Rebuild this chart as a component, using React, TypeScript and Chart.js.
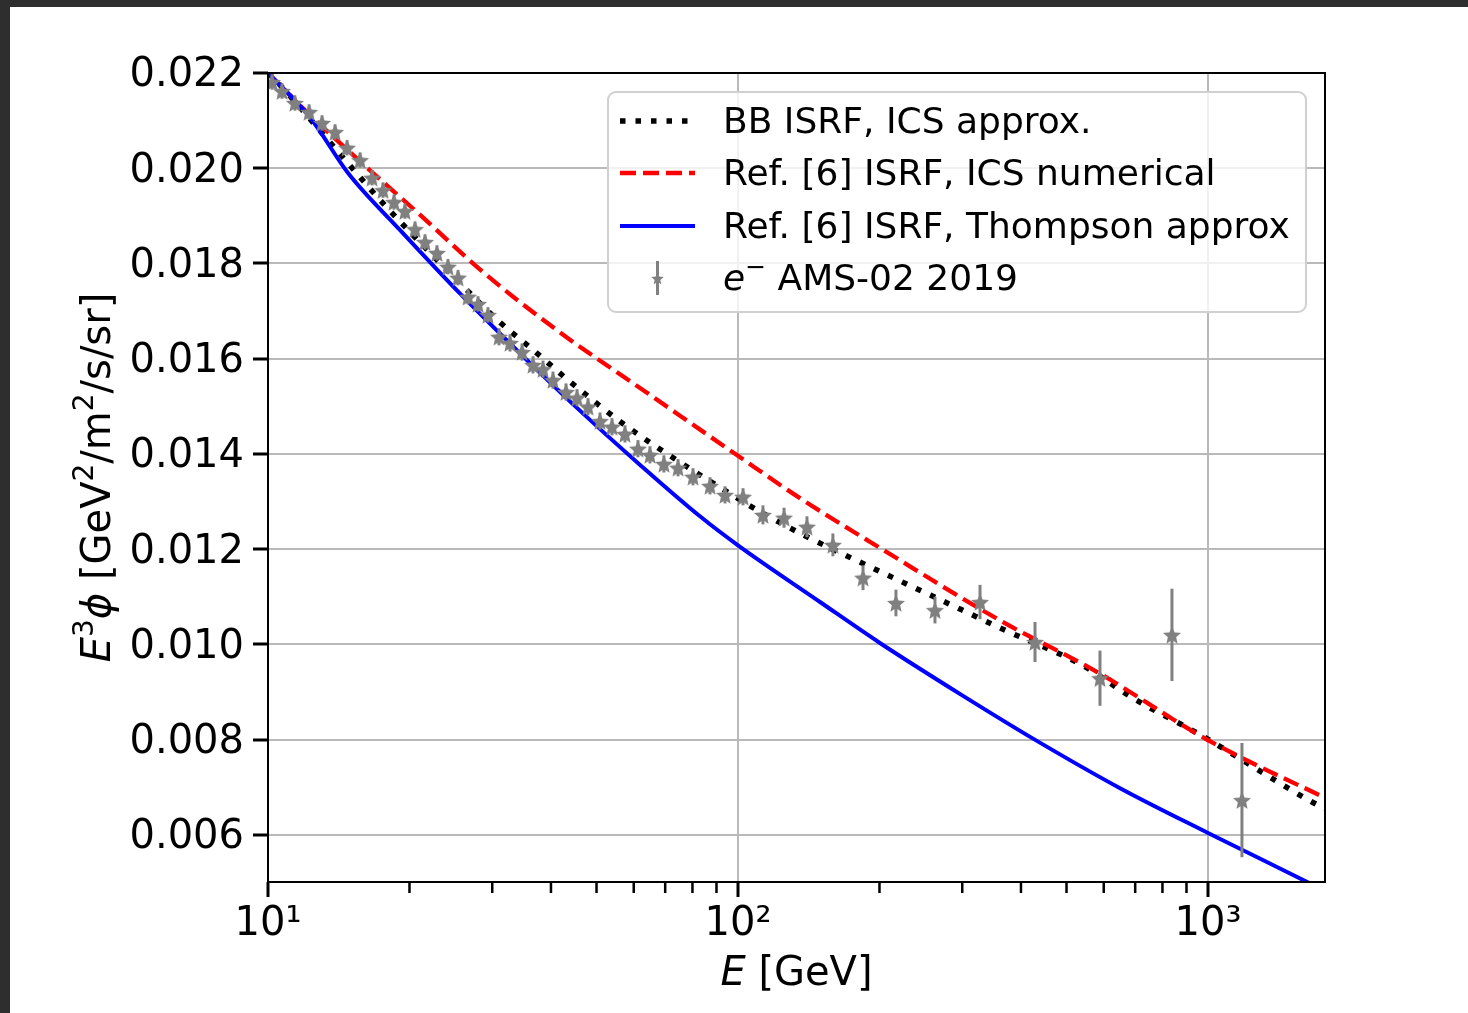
import React, { useEffect, useRef } from "react";
import { Chart, registerables } from "chart.js";

Chart.register(...registerables);

const CANVAS_W = 1468;
const CANVAS_H = 1013;
const FONT = "'DejaVu Sans'";

// ---- axes ----
const xMin = 10;
const xMax = 1774;
const yMin = 0.00501;
const yMax = 0.022;
const yTicks = [0.006, 0.008, 0.01, 0.012, 0.014, 0.016, 0.018, 0.02, 0.022];
const xMajorTicks = [10, 100, 1000];
const xMajorLabels = ["10¹", "10²", "10³"];
const xMinorTicks = [20, 30, 40, 50, 60, 70, 80, 90, 200, 300, 400, 500, 600, 700, 800, 900];

// ---- BB ISRF, ICS approx. (black dotted) ----
const bbE = [10, 10.6, 14.0, 17.7, 26.5, 31.1, 36.7, 43.5, 57.4, 77.9, 99.4, 106, 137.7, 203.6, 300, 360, 543, 690, 963, 1665, 1774];
const bbV = [0.022, 0.02175, 0.02038, 0.01923, 0.01744, 0.01677, 0.01618, 0.01555, 0.01461, 0.01373, 0.01308, 0.01291, 0.0123, 0.0115, 0.01072, 0.01035, 0.00955, 0.00888, 0.0081, 0.00669, 0.00655];

// ---- Ref. [6] ISRF, ICS numerical (red dashed) ----
const numE = [10, 12.16, 16.08, 20.85, 28.66, 41.7, 65.0, 100, 136, 204, 360, 581, 1000, 1730, 1774];
const numV = [0.022, 0.02116, 0.02005, 0.01906, 0.01782, 0.01656, 0.01524, 0.01396, 0.01306, 0.01198, 0.01051, 0.00942, 0.00799, 0.00683, 0.00678];

// ---- Ref. [6] ISRF, Thompson approx (blue solid) ----
const thomE = [10, 12.3, 14.8, 19.1, 25.6, 34.4, 46.1, 61.9, 83.0, 100, 150, 200.4, 300, 428, 650, 1000, 1626, 1774];
const thomV = [0.022, 0.02106, 0.0199, 0.0187, 0.01737, 0.01611, 0.01491, 0.01377, 0.01269, 0.01208, 0.01088, 0.01003, 0.00893, 0.008, 0.00698, 0.00604, 0.00501, 0.00482];

// ---- e- AMS-02 2019 data ----
const amsE = [10.2, 10.71, 11.41, 12.23, 13.03, 13.89, 14.73, 15.7, 16.65, 17.57, 18.54, 19.56, 20.55, 21.58, 22.88, 24.15, 25.37, 26.65, 27.98, 29.38, 31.01, 32.73, 34.72, 36.64, 38.47, 40.4, 43.06, 45.45, 47.96, 50.86, 53.94, 57.48, 61.26, 64.97, 69.57, 74.55, 80.22, 87.19, 93.84, 102.5, 113.0, 125.3, 140.2, 159.2, 184.5, 216.8, 262.5, 327.3, 428.5, 589.1, 838.2, 1181];
const amsV = [0.02181, 0.02162, 0.02137, 0.02118, 0.02095, 0.02076, 0.02043, 0.02017, 0.0198, 0.01954, 0.01929, 0.0191, 0.01872, 0.01845, 0.01822, 0.01793, 0.0177, 0.0173, 0.01715, 0.01692, 0.01646, 0.01633, 0.01614, 0.01587, 0.01578, 0.01555, 0.0153, 0.01518, 0.01499, 0.01469, 0.01457, 0.01442, 0.01411, 0.01398, 0.01379, 0.01371, 0.01352, 0.01333, 0.01314, 0.0131, 0.01272, 0.01266, 0.01247, 0.01209, 0.0114, 0.01087, 0.01072, 0.01089, 0.01005, 0.00929, 0.0102, 0.00673];
const amsErr = [0.00016, 0.00016, 0.00016, 0.00016, 0.00016, 0.00016, 0.00016, 0.00016, 0.00016, 0.00016, 0.00016, 0.00016, 0.00016, 0.00016, 0.00016, 0.00016, 0.00016, 0.00016, 0.00016, 0.00016, 0.00018, 0.00018, 0.00018, 0.00018, 0.00018, 0.00018, 0.00018, 0.00018, 0.00018, 0.00018, 0.00018, 0.00018, 0.00018, 0.00018, 0.00018, 0.00018, 0.00018, 0.00018, 0.00018, 0.00018, 0.0002, 0.00021, 0.00022, 0.00024, 0.00026, 0.00028, 0.00028, 0.00036, 0.00042, 0.00058, 0.00097, 0.0012];

// ---- legend labels ----
const legendLabels = ["BB ISRF, ICS approx.", "Ref. [6] ISRF, ICS numerical", "Ref. [6] ISRF, Thompson approx", " AMS-02 2019"];

const GRID = "#b9b9b9";
const GRAY = "#808080";

function starPath(g: CanvasRenderingContext2D, cx: number, cy: number, r: number) {
  g.beginPath();
  for (let i = 0; i < 10; i++) {
    const rr = i % 2 === 0 ? r : r * 0.46;
    const a = -Math.PI / 2 + (i * Math.PI) / 5;
    const px = cx + rr * Math.cos(a);
    const py = cy + rr * Math.sin(a);
    if (i === 0) g.moveTo(px, py);
    else g.lineTo(px, py);
  }
  g.closePath();
}

function makeStar(size: number, r: number, color: string) {
  const c = document.createElement("canvas");
  c.width = size;
  c.height = size;
  const g = c.getContext("2d")!;
  g.fillStyle = color;
  starPath(g, size / 2, size / 2 + 1, r);
  g.fill();
  return c;
}

type Part = { t: string; font: string; dy: number };

function partsWidth(ctx: CanvasRenderingContext2D, parts: Part[]) {
  let w = 0;
  for (const p of parts) {
    ctx.font = p.font;
    w += ctx.measureText(p.t).width;
  }
  return w;
}

function drawParts(ctx: CanvasRenderingContext2D, parts: Part[], x: number, y: number) {
  let cx = x;
  for (const p of parts) {
    ctx.font = p.font;
    ctx.fillText(p.t, cx, y + p.dy);
    cx += ctx.measureText(p.t).width;
  }
}

const F40 = `40px ${FONT}`;
const F40I = `italic 40px ${FONT}`;
const F28 = `28px ${FONT}`;

const customPlugin = {
  id: "customDraw",
  beforeDraw(chart: any) {
    const ctx = chart.ctx as CanvasRenderingContext2D;
    ctx.save();
    ctx.fillStyle = "#2e2e2e";
    ctx.fillRect(0, 0, CANVAS_W, CANVAS_H);
    ctx.fillStyle = "#ffffff";
    ctx.fillRect(10, 7, CANVAS_W - 10, CANVAS_H - 7);
    ctx.restore();
  },
  beforeDatasetDraw(chart: any, args: any) {
    if (args.index !== 0) return;
    const ctx = chart.ctx as CanvasRenderingContext2D;
    const xs = chart.scales.x;
    const ys = chart.scales.y;
    ctx.save();
    ctx.strokeStyle = GRAY;
    ctx.lineWidth = 3;
    for (let i = 0; i < amsE.length; i++) {
      const px = xs.getPixelForValue(amsE[i]);
      const y1 = ys.getPixelForValue(amsV[i] - amsErr[i]);
      const y2 = ys.getPixelForValue(amsV[i] + amsErr[i]);
      ctx.beginPath();
      ctx.moveTo(px, y1);
      ctx.lineTo(px, y2);
      ctx.stroke();
    }
    ctx.restore();
  },
  afterDraw(chart: any) {
    const ctx = chart.ctx as CanvasRenderingContext2D;
    const area = chart.chartArea;
    const xs = chart.scales.x;
    ctx.save();

    // spines
    ctx.strokeStyle = "#000";
    ctx.lineWidth = 2;
    ctx.strokeRect(area.left, area.top, area.right - area.left, area.bottom - area.top);

    // minor x ticks
    ctx.lineWidth = 2.5;
    for (const v of xMinorTicks) {
      const px = xs.getPixelForValue(v);
      ctx.beginPath();
      ctx.moveTo(px, area.bottom);
      ctx.lineTo(px, area.bottom + 11);
      ctx.stroke();
    }

    // axis titles
    ctx.fillStyle = "#000";
    ctx.textBaseline = "alphabetic";
    ctx.textAlign = "left";
    const xTitle: Part[] = [
      { t: "E", font: F40I, dy: 0 },
      { t: " [GeV]", font: F40, dy: 0 },
    ];
    const xw = partsWidth(ctx, xTitle);
    drawParts(ctx, xTitle, (area.left + area.right) / 2 - xw / 2, 985);

    const yTitle: Part[] = [
      { t: "E", font: F40I, dy: 0 },
      { t: "3", font: F28, dy: -17 },
      { t: "ϕ", font: F40I, dy: 0 },
      { t: " [GeV", font: F40, dy: 0 },
      { t: "2", font: F28, dy: -17 },
      { t: "/m", font: F40, dy: 0 },
      { t: "2", font: F28, dy: -17 },
      { t: "/s/sr]", font: F40, dy: 0 },
    ];
    const yw = partsWidth(ctx, yTitle);
    ctx.save();
    ctx.translate(110, (area.top + area.bottom) / 2);
    ctx.rotate(-Math.PI / 2);
    drawParts(ctx, yTitle, -yw / 2, 0);
    ctx.restore();

    // legend
    const lx = 608, ly = 92, lw = 698, lh = 220, r = 8;
    ctx.beginPath();
    ctx.moveTo(lx + r, ly);
    ctx.lineTo(lx + lw - r, ly);
    ctx.arcTo(lx + lw, ly, lx + lw, ly + r, r);
    ctx.lineTo(lx + lw, ly + lh - r);
    ctx.arcTo(lx + lw, ly + lh, lx + lw - r, ly + lh, r);
    ctx.lineTo(lx + r, ly + lh);
    ctx.arcTo(lx, ly + lh, lx, ly + lh - r, r);
    ctx.lineTo(lx, ly + r);
    ctx.arcTo(lx, ly, lx + r, ly, r);
    ctx.closePath();
    ctx.fillStyle = "rgba(255,255,255,0.8)";
    ctx.fill();
    ctx.strokeStyle = "#d0d0d0";
    ctx.lineWidth = 2;
    ctx.stroke();

    const rows = [121, 173, 226, 278];
    const hx0 = 620, hx1 = 695;
    // dotted
    ctx.strokeStyle = "#000";
    ctx.lineWidth = 5.5;
    ctx.setLineDash([5.5, 10]);
    ctx.beginPath();
    ctx.moveTo(hx0, rows[0]);
    ctx.lineTo(hx1, rows[0]);
    ctx.stroke();
    // dashed red
    ctx.strokeStyle = "#ff0000";
    ctx.lineWidth = 4.3;
    ctx.setLineDash([16, 7]);
    ctx.beginPath();
    ctx.moveTo(hx0, rows[1]);
    ctx.lineTo(hx1, rows[1]);
    ctx.stroke();
    // blue
    ctx.setLineDash([]);
    ctx.strokeStyle = "#0000ff";
    ctx.lineWidth = 4;
    ctx.beginPath();
    ctx.moveTo(hx0, rows[2]);
    ctx.lineTo(hx1, rows[2]);
    ctx.stroke();
    // errorbar sample
    const ex = (hx0 + hx1) / 2;
    ctx.strokeStyle = GRAY;
    ctx.lineWidth = 3;
    ctx.beginPath();
    ctx.moveTo(ex, rows[3] - 17);
    ctx.lineTo(ex, rows[3] + 17);
    ctx.stroke();
    ctx.fillStyle = GRAY;
    starPath(ctx, ex, rows[3] + 1, 6.5);
    ctx.fill();

    // legend texts
    ctx.fillStyle = "#000";
    ctx.textBaseline = "middle";
    const tx = 723;
    const tdy = 3;
    ctx.font = `36px ${FONT}`;
    ctx.fillText(legendLabels[0], tx, rows[0] + tdy);
    ctx.fillText(legendLabels[1], tx, rows[1] + tdy);
    ctx.fillText(legendLabels[2], tx, rows[2] + tdy);
    const row4: Part[] = [
      { t: "e", font: `italic 36px ${FONT}`, dy: 0 },
      { t: "−", font: `25px ${FONT}`, dy: -13 },
      { t: legendLabels[3], font: `36px ${FONT}`, dy: 0 },
    ];
    drawParts(ctx, row4, tx, rows[3] + tdy);

    ctx.restore();
  },
};

export default function App() {
  const canvasRef = useRef<HTMLCanvasElement | null>(null);

  useEffect(() => {
    const canvas = canvasRef.current;
    if (!canvas) return;
    const star = makeStar(22, 9.5, GRAY);
    const isMajor = (c: any) => !!c.tick && xMajorTicks.includes(Number(c.tick.value));

    const chart = new Chart(canvas, {
      type: "scatter",
      data: {
        datasets: [
          {
            label: "e⁻ AMS-02 2019",
            data: amsE.map((x, i) => ({ x, y: amsV[i] })),
            showLine: false,
            pointStyle: star as any,
            pointRadius: 9,
            pointHoverRadius: 9,
          },
          {
            label: legendLabels[2],
            data: thomE.map((x, i) => ({ x, y: thomV[i] })),
            showLine: true,
            borderColor: "#0000ff",
            borderWidth: 4,
            pointRadius: 0,
            cubicInterpolationMode: "monotone",
            clip: 0,
          } as any,
          {
            label: legendLabels[1],
            data: numE.map((x, i) => ({ x, y: numV[i] })),
            showLine: true,
            borderColor: "#ff0000",
            borderWidth: 4.3,
            borderDash: [16, 7],
            pointRadius: 0,
            cubicInterpolationMode: "monotone",
            clip: 0,
          } as any,
          {
            label: legendLabels[0],
            data: bbE.map((x, i) => ({ x, y: bbV[i] })),
            showLine: true,
            borderColor: "#000000",
            borderWidth: 5.5,
            borderDash: [5.5, 10],
            pointRadius: 0,
            cubicInterpolationMode: "monotone",
            clip: 0,
          } as any,
        ],
      },
      options: {
        responsive: false,
        animation: false,
        devicePixelRatio: 1,
        events: [],
        layout: { padding: { top: 73, right: CANVAS_W - 1325, left: 0, bottom: 0 } },
        plugins: {
          legend: { display: false },
          tooltip: { enabled: false },
          title: { display: false },
        },
        scales: {
          x: {
            type: "logarithmic",
            min: xMin,
            max: xMax,
            afterBuildTicks: (s: any) => {
              s.ticks = [...xMajorTicks, ...xMinorTicks]
                .sort((a, b) => a - b)
                .map((v) => ({ value: v, major: xMajorTicks.includes(v) }));
            },
            afterFit: (s: any) => {
              s.height = CANVAS_H - 882;
            },
            ticks: {
              autoSkip: false,
              maxRotation: 0,
              minRotation: 0,
              padding: 4,
              color: "#000",
              font: { family: FONT, size: 40, lineHeight: 1.2 },
              callback: (v: any) => {
                const i = xMajorTicks.indexOf(Number(v));
                return i >= 0 ? xMajorLabels[i] : "";
              },
            },
            grid: {
              color: (c: any) => (isMajor(c) ? GRID : "rgba(0,0,0,0)"),
              tickColor: (c: any) => (isMajor(c) ? "#000" : "rgba(0,0,0,0)"),
              lineWidth: 2,
              tickWidth: 3,
              tickLength: 15,
            },
            border: { display: false },
          } as any,
          y: {
            type: "linear",
            min: yMin,
            max: yMax,
            afterBuildTicks: (s: any) => {
              s.ticks = yTicks.map((v) => ({ value: v }));
            },
            afterFit: (s: any) => {
              s.width = 268;
            },
            ticks: {
              padding: 9,
              labelOffset: 3,
              color: "#000",
              font: { family: FONT, size: 40 },
              callback: (v: any) => Number(v).toFixed(3),
            },
            grid: {
              color: GRID,
              tickColor: "#000",
              lineWidth: 2,
              tickWidth: 3,
              tickLength: 15,
            },
            border: { display: false },
          } as any,
        },
      },
      plugins: [customPlugin],
    });

    return () => {
      chart.destroy();
    };
  }, []);

  return (
    <div
      style={{
        position: "fixed",
        left: 0,
        top: 0,
        width: CANVAS_W,
        height: CANVAS_H,
        background: "#2e2e2e",
      }}
    >
      <canvas
        ref={canvasRef}
        width={CANVAS_W}
        height={CANVAS_H}
        style={{ display: "block", width: CANVAS_W, height: CANVAS_H }}
      />
    </div>
  );
}
